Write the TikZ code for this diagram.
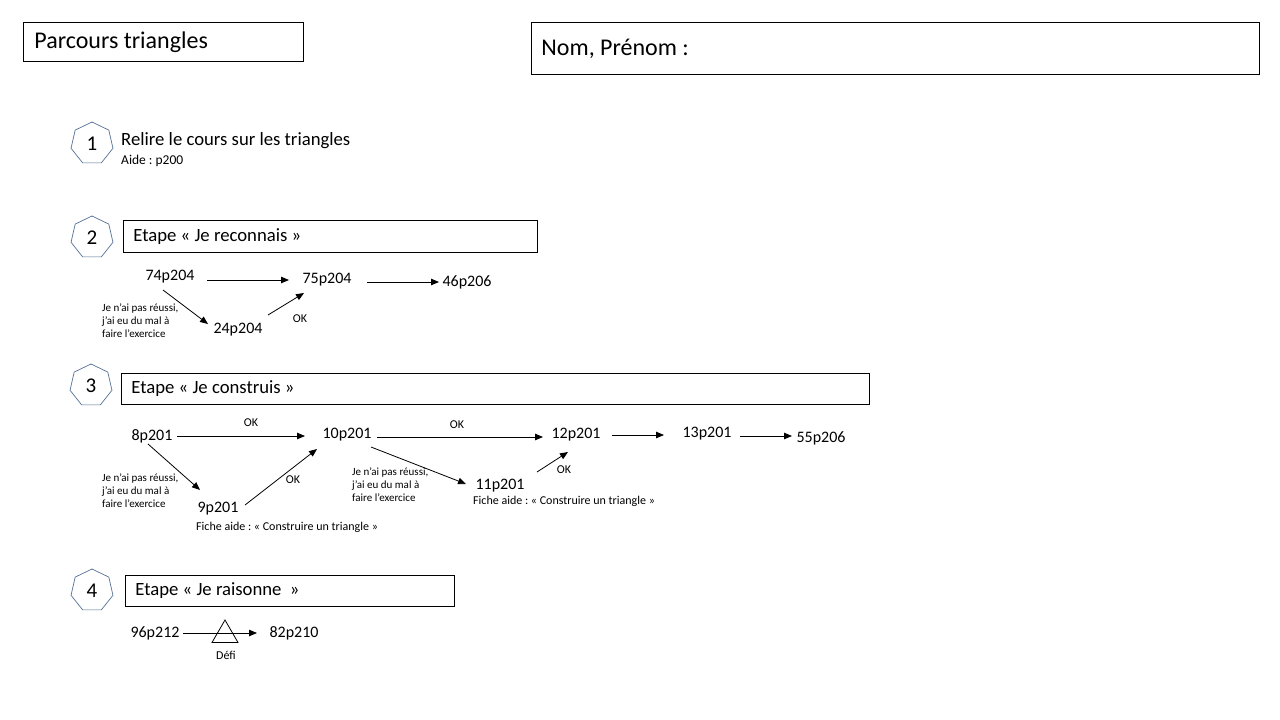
\documentclass[tikz,border=0pt]{standalone}
\usepackage{fontspec}
\setmainfont{Carlito}
\usetikzlibrary{shapes.geometric, arrows.meta, positioning}
\frenchspacing

\definecolor{heptblue}{RGB}{84,112,148}

\tikzset{
  hept/.style={draw=heptblue, line width=0.7pt, regular polygon, regular polygon sides=7, minimum size=43pt, inner sep=0pt, font=\fontsize{21}{25}\selectfont},
  etape/.style={draw, line width=0.9pt, anchor=north west, inner xsep=10pt, inner ysep=0pt, align=flush left, font=\fontsize{18.7}{22}\selectfont},
  ex/.style={inner sep=0pt, font=\fontsize{16}{19}\selectfont},
  note/.style={inner sep=0pt, anchor=west, align=flush left, font=\fontsize{11}{13}\selectfont},
  small/.style={inner sep=0pt, font=\fontsize{12}{14}\selectfont},
  arr/.style={-{Triangle[length=8pt,width=6.5pt]}, line width=0.8pt},
}

\begin{document}
\begin{tikzpicture}[x=1pt, y=-1pt]
	\useasboundingbox (0,0) rectangle (1280,720);
	\fill[white] (0,0) rectangle (1280,720);

	% Header
	\node[etape, text width=258pt, minimum height=39pt, inner xsep=11pt, font=\fontsize{24}{28}\selectfont] (titre) at (23,22) {Parcours triangles};
	\node[etape, text width=708pt, minimum height=52pt, font=\fontsize{24}{28}\selectfont] (nom) at (531,22) {Nom, Prénom :};

	% Step 1
	\node[hept] (h1) at (92,143.5) {1};
	\node[inner sep=0pt, anchor=west, font=\fontsize{18.7}{22}\selectfont] (relire) at (121,141) {Relire le cours sur les triangles};
	\node[inner sep=0pt, anchor=west, font=\fontsize{13.5}{16}\selectfont] (aide1) at (121,161) {Aide : p200};

	% Step 2
	\node[hept] (h2) at (92,237.5) {2};
	\node[etape, text width=394pt, minimum height=32pt] (e2) at (123,220) {Etape « Je reconnais »};

	\node[ex] (n74) at (170,277) {74p204};
	\node[ex] (n75) at (327,280) {75p204};
	\node[ex] (n46) at (467,282) {46p206};
	\node[ex] (n24) at (238,330) {24p204};
	\node[note] (rate2) at (102,321) {Je n’ai pas réussi,\\j’ai eu du mal à\\faire l’exercice};
	\node[small] (ok2) at (300,319) {OK};

	\draw[arr] ([shift={(37,3)}]n74.center) -- ([shift={(-38,0)}]n75.center);
	\draw[arr] ([shift={(40,2)}]n75.center) -- ([shift={(-28,0)}]n46.center);
	\draw[arr] ([shift={(-7,13)}]n74.center) -- ([shift={(-30,-6)}]n24.center);
	\draw[arr] ([shift={(30,-15)}]n24.center) -- ([shift={(-23,13)}]n75.center);

	% Step 3
	\node[hept] (h3) at (91,385.5) {3};
	\node[etape, text width=728pt, minimum height=31pt] (e3) at (121,373) {Etape « Je construis »};

	\node[ex] (n8) at (152,436) {8p201};
	\node[ex] (n10) at (347,435) {10p201};
	\node[ex] (n12) at (576,435) {12p201};
	\node[ex] (n13) at (707,434) {13p201};
	\node[ex] (n55) at (821,438) {55p206};
	\node[ex] (n9) at (218,509) {9p201};
	\node[ex] (n11) at (500,486) {11p201};
	\node[note] (rate3a) at (102,491) {Je n’ai pas réussi,\\j’ai eu du mal à\\faire l’exercice};
	\node[note] (rate3b) at (352,485) {Je n’ai pas réussi,\\j’ai eu du mal à\\faire l’exercice};
	\node[small, anchor=west] (fiche9) at (196,527) {Fiche aide : « Construire un triangle »};
	\node[small, anchor=west] (fiche11) at (473,501) {Fiche aide : « Construire un triangle »};
	\node[small] (ok3a) at (251,423) {OK};
	\node[small] (ok3b) at (293,480) {OK};
	\node[small] (ok3c) at (457,425) {OK};
	\node[small] (ok3d) at (564,470) {OK};

	\draw[arr] ([shift={(25,0)}]n8.center) -- ([shift={(-42,1)}]n10.center);
	\draw[arr] ([shift={(30,2)}]n10.center) -- ([shift={(-33,2)}]n12.center);
	\draw[arr] ([shift={(36,0)}]n12.center) -- ([shift={(-43,1)}]n13.center);
	\draw[arr] ([shift={(33,2)}]n13.center) -- ([shift={(-29,-2)}]n55.center);
	\draw[arr] ([shift={(-4,8)}]n8.center) -- ([shift={(-18,-19)}]n9.center);
	\draw[arr] ([shift={(27,-4)}]n9.center) -- ([shift={(-30,14)}]n10.center);
	\draw[arr] ([shift={(24,12)}]n10.center) -- ([shift={(-34,-2)}]n11.center);
	\draw[arr] ([shift={(37,-14)}]n11.center) -- ([shift={(-8,17)}]n12.center);

	% Step 4
	\node[hept] (h4) at (92,590.5) {4};
	\node[etape, text width=309pt, minimum height=31pt] (e4) at (125,575) {Etape « Je raisonne~ »};

	\node[ex] (n96) at (155,633) {96p212};
	\node[ex] (n82) at (294,633) {82p210};
	\node[draw, line width=0.8pt, regular polygon, regular polygon sides=3, minimum size=30pt, inner sep=0pt] (defi) at (225,635) {};
	\node[small] (defilabel) at (226,655) {Défi};

	\draw[arr] ([shift={(28,0)}]n96.center) -- ([shift={(-37,0)}]n82.center);
\end{tikzpicture}
\end{document}
